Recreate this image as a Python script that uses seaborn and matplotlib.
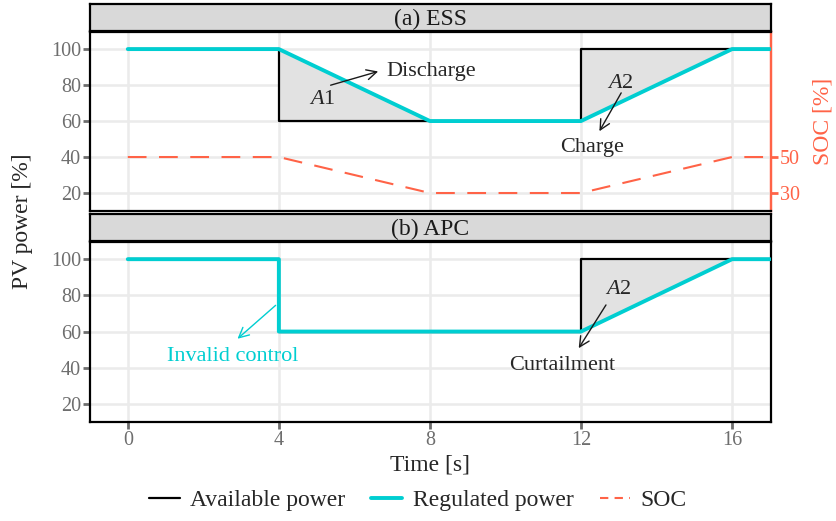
import matplotlib
matplotlib.use("Agg")
import matplotlib.pyplot as plt
import seaborn as sns
import numpy as np
import pandas as pd
from matplotlib.lines import Line2D

# ---- data ----
t_avail = [0, 4, 4, 8, 12, 12, 16, 17]
p_avail = [100, 100, 60, 60, 60, 100, 100, 100]

t_reg_ess = [0, 4, 8, 12, 16, 17]
p_reg_ess = [100, 100, 60, 60, 100, 100]

t_soc = [0, 4, 8, 12, 16, 17]
soc = [50, 50, 30, 30, 50, 50]          # SOC [%], secondary axis = primary + 10

t_reg_apc = [0, 4, 4, 12, 16, 17]
p_reg_apc = [100, 100, 60, 60, 100, 100]

# shaded energy areas (time, lower, upper)
a1_t = [4, 8]; a1_lo = [60, 60]; a1_hi = [100, 60]
a2_t = [12, 16]; a2_lo = [60, 100]; a2_hi = [100, 100]

x_ticks = [0, 4, 8, 12, 16]
y_ticks = [20, 40, 60, 80, 100]
soc_ticks = [30, 50]
panel_titles = ["(a) ESS", "(b) APC"]

CYAN = "#00CED1"
RED = "#FF6347"
GRID = "#EBEBEB"
TICKC = "#6E6E6E"
FILL = "#E2E2E2"

sns.set_theme(style="white")
plt.rcParams["font.family"] = ["Liberation Serif", "DejaVu Serif"]
plt.rcParams["mathtext.fontset"] = "custom"
plt.rcParams["mathtext.it"] = "Liberation Serif:italic"
plt.rcParams["mathtext.rm"] = "Liberation Serif"

TICK_FS = 14.5
TITLE_FS = 17
ANN_FS = 16

fig = plt.figure(figsize=(8.37, 5.21), dpi=100)
W, H = 837, 521

def fig_rect(x0, y0, x1, y1):
    return [x0 / W, 1 - y1 / H, (x1 - x0) / W, (y1 - y0) / H]

ax1 = fig.add_axes(fig_rect(90, 32, 771, 211))
ax2 = fig.add_axes(fig_rect(90, 242, 771, 422))
s1 = fig.add_axes(fig_rect(90, 4, 771, 31))
s2 = fig.add_axes(fig_rect(90, 214, 771, 241))

for s, title in zip([s1, s2], panel_titles):
    s.set_facecolor("#D9D9D9")
    s.set_xticks([]); s.set_yticks([])
    for sp in s.spines.values():
        sp.set_color("black"); sp.set_linewidth(1.6)
    s.text(0.5, 0.42, title, ha="center", va="center", fontsize=TITLE_FS, color="#1A1A1A",
           transform=s.transAxes)

df_avail = pd.DataFrame({"t": t_avail, "p": p_avail})
df_ess = pd.DataFrame({"t": t_reg_ess, "p": p_reg_ess})
df_apc = pd.DataFrame({"t": t_reg_apc, "p": p_reg_apc})
df_soc = pd.DataFrame({"t": t_soc, "p": np.array(soc) - 10})

def style_ax(ax, show_x):
    ax.set_xlim(-1.0, 17.03)
    ax.set_ylim(10, 109.5)
    ax.set_xticks(x_ticks)
    ax.set_yticks(y_ticks)
    ax.grid(True, color=GRID, linewidth=1.8, zorder=0)
    ax.set_axisbelow(True)
    for sp in ax.spines.values():
        sp.set_color("black"); sp.set_linewidth(1.6)
    ax.tick_params(axis="y", length=5, width=2, color=TICKC, labelcolor=TICKC,
                   labelsize=TICK_FS, pad=1.5, left=True)
    if show_x:
        ax.tick_params(axis="x", length=5, width=2, color=TICKC, labelcolor=TICKC,
                       labelsize=TICK_FS, pad=1.5, bottom=True)
    else:
        ax.tick_params(axis="x", bottom=False, labelbottom=False)
    ax.set_xlabel(""); ax.set_ylabel("")

arrow_k = dict(arrowstyle="->", color="#1A1A1A", lw=1.0, mutation_scale=18)

# ---- panel (a) ESS ----
ax1.fill_between(a1_t, a1_lo, a1_hi, color=FILL, zorder=1, linewidth=0)
ax1.fill_between(a2_t, a2_lo, a2_hi, color=FILL, zorder=1, linewidth=0)
sns.lineplot(data=df_avail, x="t", y="p", ax=ax1, color="black", linewidth=1.6,
             sort=False, estimator=None, zorder=3)
sns.lineplot(data=df_ess, x="t", y="p", ax=ax1, color=CYAN, linewidth=2.8,
             sort=False, estimator=None, zorder=4)
sns.lineplot(data=df_soc, x="t", y="p", ax=ax1, color=RED, linewidth=1.5,
             sort=False, estimator=None, zorder=4)
ax1.lines[-1].set_linestyle((0, (9, 6)))
style_ax(ax1, False)
ax1.spines["right"].set_color(RED)

sec = ax1.secondary_yaxis("right", functions=(lambda y: y + 10, lambda s: s - 10))
sec.set_yticks(soc_ticks)
sec.tick_params(axis="y", length=5, width=2, color=RED, labelcolor=RED, labelsize=TICK_FS, pad=1.5)
sec.spines["right"].set_color(RED)
sec.spines["right"].set_linewidth(1.6)
sec.set_ylabel("SOC [%]", color=RED, fontsize=TITLE_FS, labelpad=9)

ax1.text(5.15, 72, r"$A1$", fontsize=ANN_FS, ha="center", va="center", zorder=6)
ax1.annotate("", xy=(6.7, 88), xytext=(5.3, 79.5), arrowprops=arrow_k, zorder=6)
ax1.text(6.85, 87.5, "Discharge", fontsize=ANN_FS, ha="left", va="center", zorder=6)
ax1.text(13.05, 81, r"$A2$", fontsize=ANN_FS, ha="center", va="center", zorder=6)
ax1.annotate("", xy=(12.45, 53), xytext=(13.1, 77), arrowprops=arrow_k, zorder=6)
ax1.text(12.3, 45.5, "Charge", fontsize=ANN_FS, ha="center", va="center", zorder=6)

# ---- panel (b) APC ----
ax2.fill_between(a2_t, a2_lo, a2_hi, color=FILL, zorder=1, linewidth=0)
sns.lineplot(data=df_avail, x="t", y="p", ax=ax2, color="black", linewidth=1.6,
             sort=False, estimator=None, zorder=3)
sns.lineplot(data=df_apc, x="t", y="p", ax=ax2, color=CYAN, linewidth=2.8,
             sort=False, estimator=None, zorder=4)
style_ax(ax2, True)
ax2.text(13.0, 83.3, r"$A2$", fontsize=ANN_FS, ha="center", va="center", zorder=6)
ax2.annotate("", xy=(11.9, 49.5), xytext=(12.7, 76), arrowprops=arrow_k, zorder=6)
ax2.text(11.5, 41.5, "Curtailment", fontsize=ANN_FS, ha="center", va="center", zorder=6)
ax2.annotate("", xy=(2.85, 55), xytext=(3.97, 75.5),
             arrowprops=dict(arrowstyle="->", color=CYAN, lw=1.0, mutation_scale=18), zorder=6)
ax2.text(2.78, 46, "Invalid control", fontsize=ANN_FS, ha="center", va="center", color=CYAN, zorder=6)

ax2.set_xlabel("Time [s]", fontsize=TITLE_FS, labelpad=3)
fig.text(23 / W, 1 - 221 / H, "PV power [%]", rotation=90, ha="center", va="center", fontsize=TITLE_FS)

handles = [Line2D([], [], color="black", lw=1.6),
           Line2D([], [], color=CYAN, lw=2.8),
           Line2D([], [], color=RED, lw=1.5, linestyle=(0, (4, 3)))]
fig.legend(handles, ["Available power", "Regulated power", "SOC"], loc="center",
           bbox_to_anchor=(418 / W, 1 - 500 / H), ncol=3, frameon=False, fontsize=TITLE_FS,
           handlelength=1.3, columnspacing=1.1, handletextpad=0.45)

fig.savefig("out.png", dpi=100)
